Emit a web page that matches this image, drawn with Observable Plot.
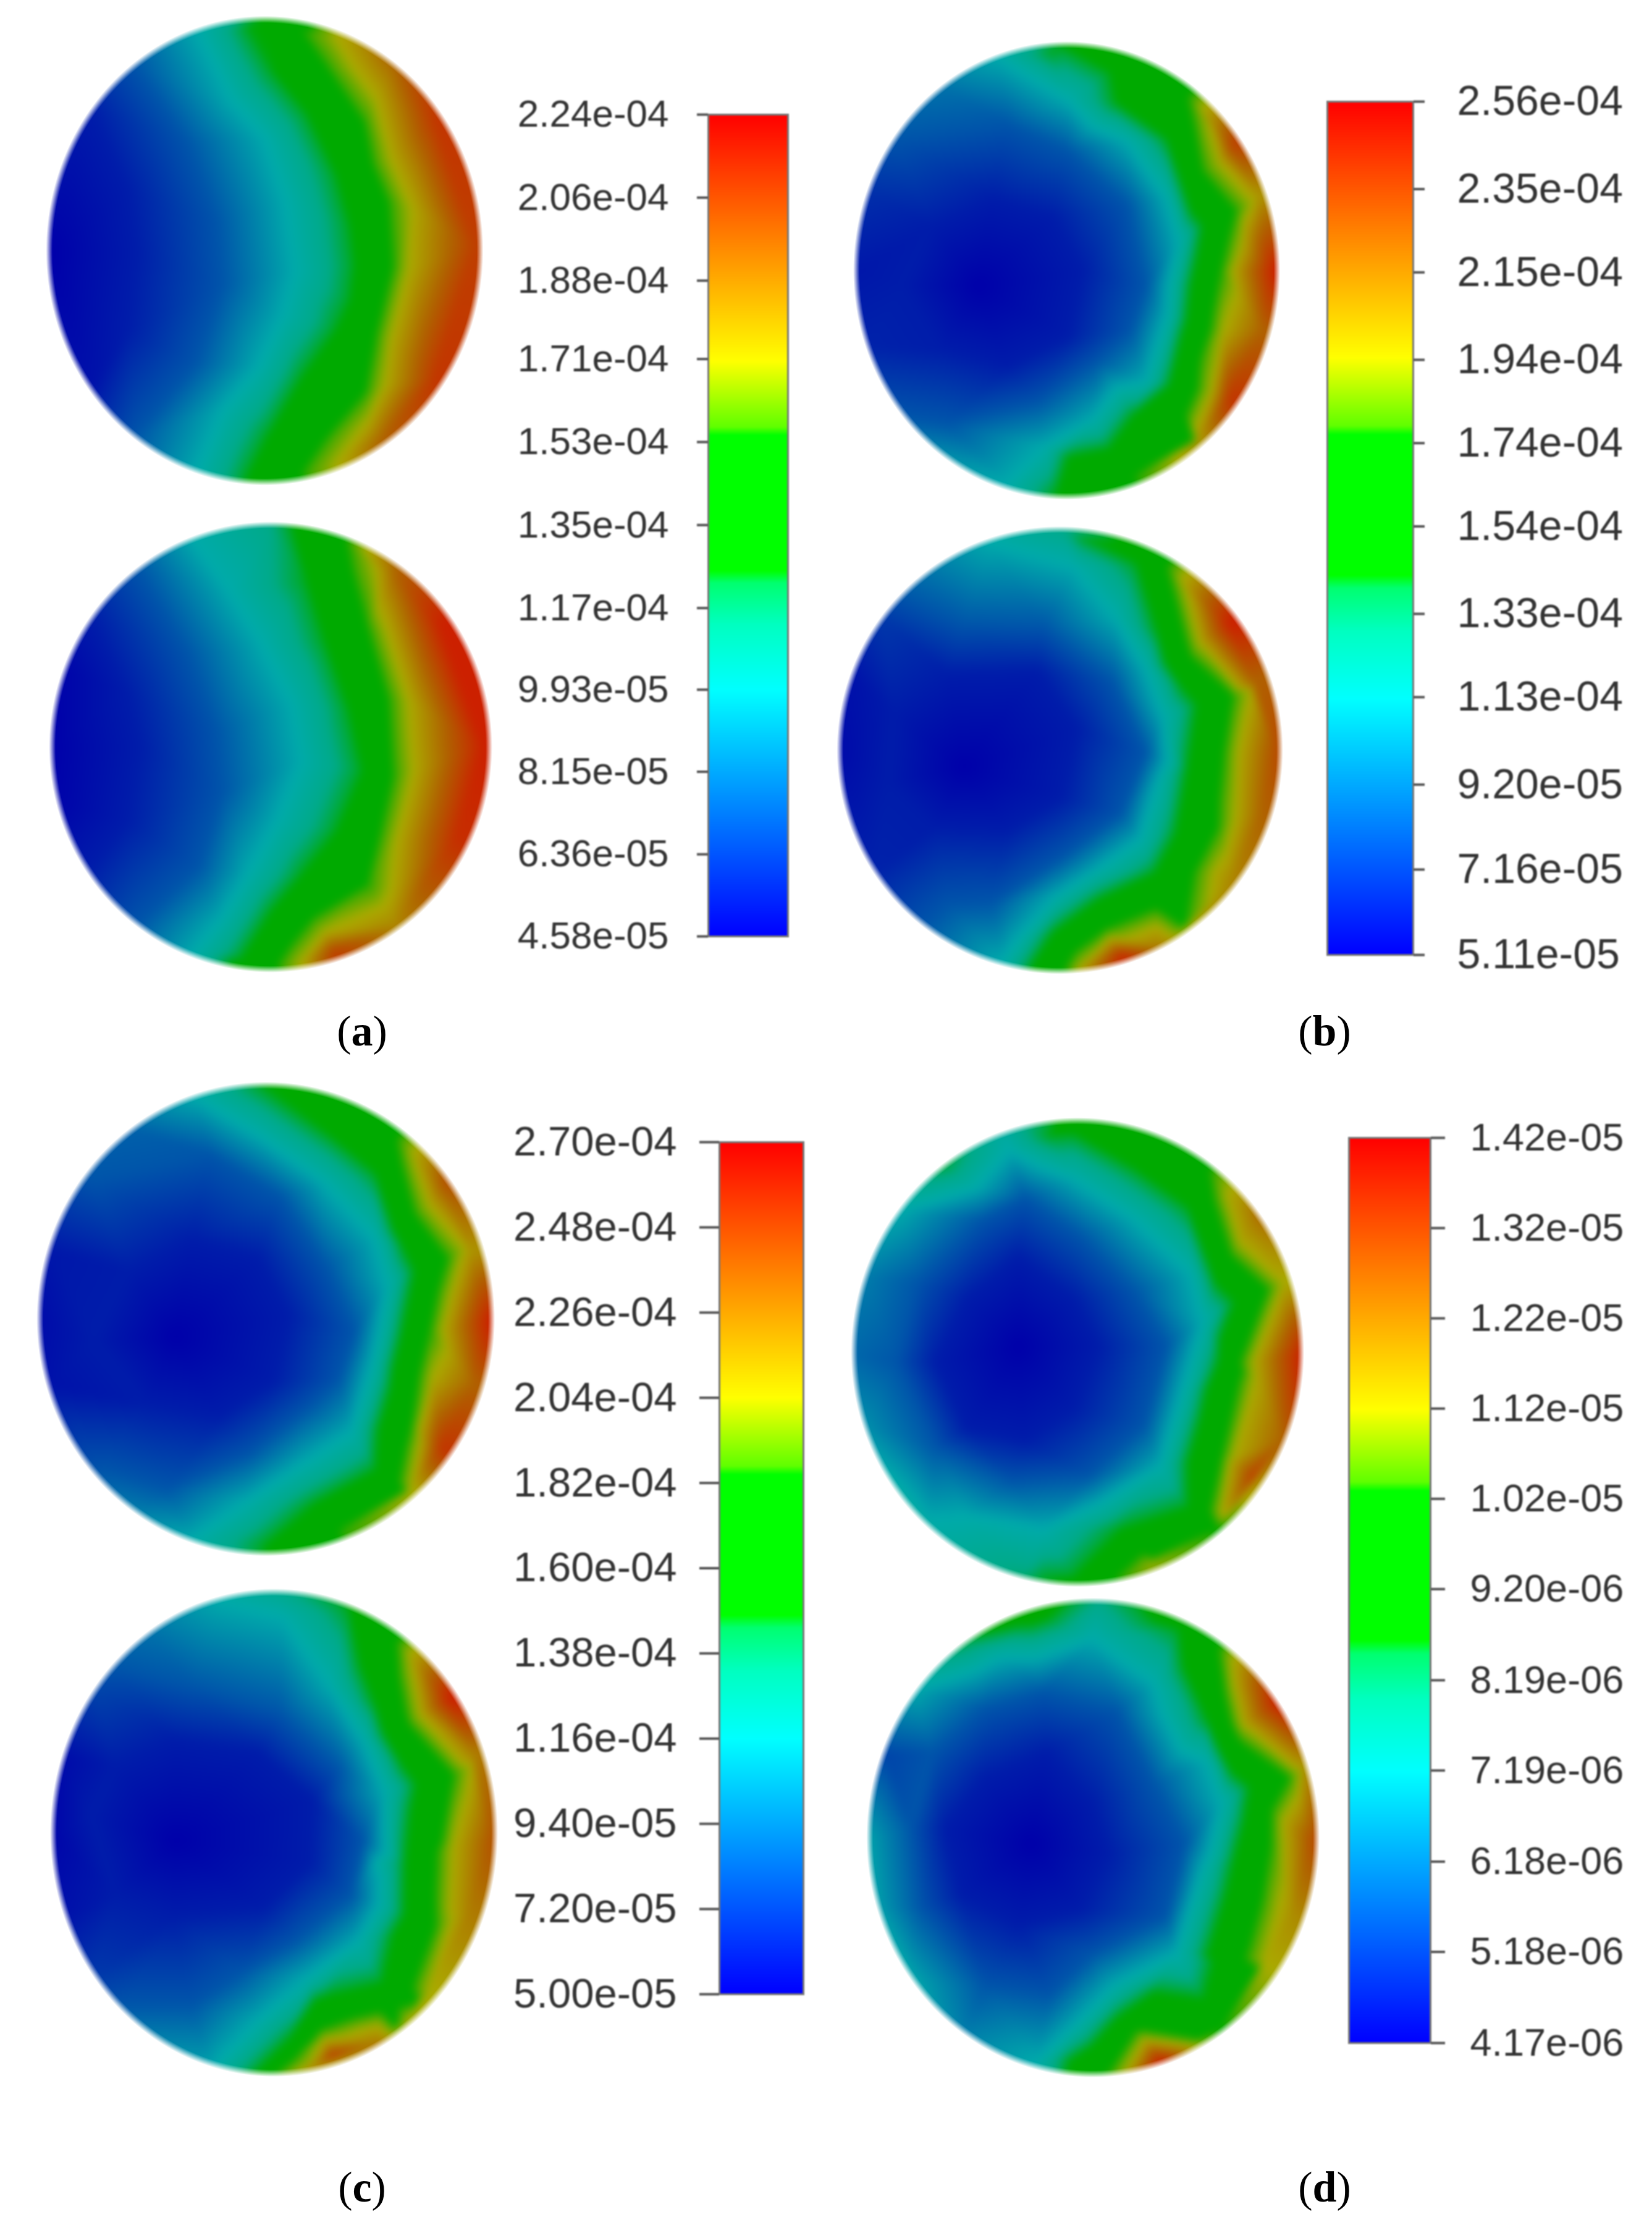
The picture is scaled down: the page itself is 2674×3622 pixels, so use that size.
<!DOCTYPE html>
<html><head><meta charset="utf-8">
<script src="https://cdn.jsdelivr.net/npm/d3@7"></script>
<script src="https://cdn.jsdelivr.net/npm/@observablehq/plot@0.6"></script>
<style>
html,body{margin:0;background:#fff}
#page{position:relative;width:2674px;height:3622px;overflow:hidden;background:#fff}
#page>div{position:absolute}
.lab{font:70px "Liberation Serif",serif;color:#000;line-height:1;white-space:nowrap}
.lab b{font-weight:700}
</style></head><body><div id="page"></div>
<script>
// Colour-bar tick labels
const ticksA=["2.24e-04","2.06e-04","1.88e-04","1.71e-04","1.53e-04","1.35e-04","1.17e-04","9.93e-05","8.15e-05","6.36e-05","4.58e-05"];
const ticksB=["2.56e-04","2.35e-04","2.15e-04","1.94e-04","1.74e-04","1.54e-04","1.33e-04","1.13e-04","9.20e-05","7.16e-05","5.11e-05"];
const ticksC=["2.70e-04","2.48e-04","2.26e-04","2.04e-04","1.82e-04","1.60e-04","1.38e-04","1.16e-04","9.40e-05","7.20e-05","5.00e-05"];
const ticksD=["1.42e-05","1.32e-05","1.22e-05","1.12e-05","1.02e-05","9.20e-06","8.19e-06","7.19e-06","6.18e-06","5.18e-06","4.17e-06"];

// Colour ramp stops (fraction of the range)
const rampStops=[0,.3,.38,.43,.445,.61,.62,.7,.85,1];
const barColors=["#0000ff","#00ffff","#00ffc0","#00ff70","#00ff00","#00ff00","#60ff00","#ffff00","#ff8000","#ff0000"];
const discColors=["#0000aa","#00aaaa","#00aa88","#00aa30","#00aa00","#00aa00","#30aa00","#aaaa00","#b06000","#cc2000"];

// Disc fields: contour lines as [fraction,[u,v,u,v,...]],
// rim samples as [u,v,fraction,...] and the location of the minimum.
const a1Min=[50,800];
const a1Lines=[[.05,[180,350,300,600,330,800,300,1050,180,1230]],
[.15,[330,210,500,450,600,700,620,900,530,1150,330,1380]],
[.3,[540,105,650,320,760,440,830,640,860,860,820,1000,740,1160,620,1300,540,1480]],
[.44,[700,80,790,230,900,360,1000,560,1045,720,1060,840,1045,950,1000,1040,880,1200,770,1380,700,1510]],
[.61,[880,95,970,220,1090,390,1170,640,1185,850,1130,1060,1095,1240,960,1390,880,1500]],
[.7,[1000,120,1130,310,1180,500,1250,660,1240,850,1180,1080,1160,1220,1100,1340,1000,1470]]];
const a1Rim=[760,60,.45,1200,200,.85,1330,380,.95,1460,780,.93,1330,1200,.95,1150,1400,.85,180,350,.03,180,1230,.03];

const a2Min=[50,800];
const a2Lines=[[.05,[180,370,300,620,340,800,300,1050,170,1220]],
[.15,[340,210,500,480,600,750,620,950,540,1200,340,1390]],
[.3,[520,110,640,280,750,460,850,660,880,850,800,1050,700,1230,610,1380,520,1490]],
[.44,[850,70,900,250,960,450,1040,680,1085,880,1000,1080,880,1230,780,1350,680,1510]],
[.61,[1030,110,1100,400,1170,640,1185,900,1140,1100,1100,1260,920,1370,800,1530]],
[.7,[1130,200,1170,420,1240,650,1240,950,1200,1110,1180,1280,960,1420,880,1520]]];
const a2Rim=[1200,220,.85,1350,400,1,1490,800,1,1400,1100,.97,1200,1400,.78,990,1490,.93,100,550,.01,90,1000,.01,780,65,.38];

const b1Min=[500,850];
const b1Lines=[[.05,[550,560,750,620,850,800,800,1020,600,1120,380,1060,250,850,350,650]],
[.15,[230,360,600,310,800,400,1000,580,1060,850,1010,1000,900,1100,700,1240,400,1310,260,1290]],
[.3,[570,90,800,230,1000,370,1130,560,1170,700,1130,950,1060,1170,880,1300,720,1390,600,1510]],
[.44,[740,65,960,240,1130,360,1210,600,1250,650,1210,850,1140,1180,1020,1280,800,1420,760,1540]],
[.61,[1200,220,1250,470,1360,600,1310,800,1240,1100,1220,1370]],
[.7,[1270,300,1310,440,1420,570,1380,720,1320,1000,1280,1200]]];
const b1Rim=[1350,380,.92,1490,800,1,1450,1000,.85,1340,1230,.95,1240,1360,.75,1440,550,.75,1440,700,.85,780,50,.44,1000,100,.5,100,800,.04,130,550,.08,380,190,.2,130,1050,.06,390,1420,.25,800,1540,.46,1000,1500,.6];

const b2Min=[450,850];
const b2Lines=[[.05,[400,540,700,530,830,720,780,950,600,1060,350,1050,200,900,220,660]],
[.15,[250,280,450,370,720,380,950,560,1060,800,980,1000,780,1150,550,1300,400,1310,330,1370]],
[.3,[540,100,820,180,960,350,1060,520,1120,680,1100,900,1040,1090,900,1190,760,1280,630,1430,580,1500]],
[.44,[850,80,1030,170,1100,400,1180,580,1230,640,1200,850,1160,1070,1090,1200,900,1290,750,1400,680,1510]],
[.61,[1130,180,1210,480,1350,610,1320,800,1300,1050,1190,1380,930,1385,790,1520]],
[.7,[1200,270,1240,430,1410,590,1370,800,1360,1000,1290,1200]],
[.7,[1180,1400,940,1420,860,1500]]];
const b2Rim=[1340,370,1,1500,800,.9,1450,1000,.85,1350,1230,.78,980,1480,.98,1100,1450,.8,1420,560,.85,160,1200,.06,50,800,.02,80,550,.03,180,350,.1,320,200,.2,780,60,.37,1030,110,.47];

const c1Min=[500,870];
const c1Lines=[[.05,[560,560,780,620,880,800,830,1010,650,1120,400,1080,230,880,350,660]],
[.15,[230,370,620,290,850,420,1010,650,1100,850,1050,1000,950,1090,750,1240,480,1350,260,1290]],
[.3,[570,110,780,230,1000,380,1170,560,1210,700,1160,950,1090,1170,900,1290,740,1390,560,1510]],
[.44,[800,80,1030,240,1170,350,1260,580,1300,660,1260,850,1170,1290,960,1400,800,1530]],
[.61,[1240,240,1300,480,1410,620,1350,850,1290,1150,1270,1360]],
[.7,[1300,300,1350,450,1470,590,1420,750,1360,1000,1320,1200,1290,1350]]];
const c1Rim=[1400,380,.88,1550,820,1,1500,1020,.85,1390,1220,.95,1000,1490,.5,1490,600,.75,800,65,.44,350,210,.17,90,600,.04,50,820,.02,80,1020,.03,370,1420,.22,820,1545,.45,1060,1480,.62];

const c2Min=[500,880];
const c2Lines=[[.05,[500,560,780,600,960,750,950,950,800,1090,500,1120,300,1050,220,800,300,640]],
[.15,[300,330,560,390,850,470,1050,650,1130,880,1090,1050,900,1200,720,1300,560,1400,330,1400]],
[.3,[650,120,860,170,1020,390,1130,560,1200,720,1170,950,1110,1200,950,1310,780,1450,660,1568,620,1620]],
[.44,[1080,140,1170,450,1260,640,1305,700,1270,950,1190,1330,1010,1370,880,1510,760,1625]],
[.61,[1240,250,1280,510,1430,670,1390,880,1370,1150,1310,1390,1240,1470,990,1475,900,1568,830,1625]],
[.7,[1290,320,1320,480,1490,640,1430,900,1420,1100,1350,1350,1280,1450]],
[.7,[1240,1490,1000,1510,960,1580,900,1625]]];
const c2Rim=[1420,430,1,1560,880,.88,1490,1100,.8,1030,1568,.95,1180,1520,.8,1500,600,.8,840,90,.36,420,220,.2,240,400,.12,130,620,.02,95,860,.01,130,1120,.03,230,1310,.1,390,1470,.2];

const d1Min=[620,800];
const d1Lines=[[.05,[620,520,800,650,880,800,800,1000,640,1100,450,1060,350,850,450,650]],
[.15,[640,330,820,450,1000,630,1100,800,1030,1050,850,1210,600,1230,350,1120,220,850,290,600,500,400]],
[.3,[240,370,480,300,590,180,800,270,1000,400,1180,570,1220,720,1150,950,1080,1180,880,1300,700,1380,450,1340,330,1350]],
[.44,[720,130,1000,240,1170,360,1260,600,1320,660,1270,850,1170,1310,950,1380,700,1540]],
[.61,[1240,240,1300,480,1430,620,1340,850,1280,1150,1270,1380]],
[.61,[1060,1470,930,1540]],
[.7,[1300,330,1340,470,1480,600,1390,900,1320,1150,1280,1330]]];
const d1Rim=[1400,390,.82,1540,830,1,1480,1100,.85,1390,1220,.95,1050,1490,.68,810,1555,.46,640,1540,.4,370,1430,.33,1480,600,.75,800,85,.48,1030,120,.5,90,830,.18,120,580,.22,120,1050,.25,230,1270,.32,380,230,.42,570,110,.33];

const d2Min=[600,850];
const d2Lines=[[.05,[650,560,800,720,850,880,760,1060,560,1110,370,1010,320,800,450,640]],
[.15,[640,370,880,430,1000,660,1100,850,1040,1080,800,1200,660,1330,450,1300,240,1050,210,800,280,560,450,420]],
[.3,[220,360,500,260,800,200,1000,340,1170,590,1220,720,1150,950,1070,1200,870,1300,750,1420,620,1540]],
[.44,[1080,170,1170,450,1250,620,1310,670,1260,900,1160,1340,1000,1320,880,1400,720,1540]],
[.61,[1210,230,1260,490,1440,640,1380,850,1340,1250,1220,1440,1150,1470,960,1440,850,1580]],
[.7,[1260,340,1290,470,1480,610,1420,780,1400,1080,1360,1220]],
[.7,[1130,1490,970,1470,900,1590]]];
const d2Rim=[1400,400,1,1520,840,.9,1450,1090,.76,1020,1540,1,1480,600,.75,75,830,.28,100,1050,.28,210,1290,.3,380,1450,.22,130,570,.12,590,110,.5,380,210,.42,820,75,.38,1060,130,.48];

// ---------- layout (page pixels) ----------
const unit=1568;           // contour coordinates span this many units across a crop
const pad=44;
const discs=[
 {lines:a1Lines,rim:a1Rim,min:a1Min,crop:[60,0,760,800],ext:[40,1480,60,1530],t:ticksA},
 {lines:a2Lines,rim:a2Rim,min:a2Min,crop:[60,820,760,760],ext:[50,1510,60,1545],t:ticksA},
 {lines:b1Lines,rim:b1Rim,min:b1Min,crop:[1340,50,760,760],ext:[95,1500,45,1555],t:ticksB},
 {lines:b2Lines,rim:b2Rim,min:b2Min,crop:[1340,830,760,760],ext:[40,1510,55,1530],t:ticksB},
 {lines:c1Lines,rim:c1Rim,min:c1Min,crop:[40,1720,760,800],ext:[50,1560,70,1555],t:ticksC},
 {lines:c2Lines,rim:c2Rim,min:c2Min,crop:[40,2530,760,800],ext:[95,1570,90,1619],t:ticksC},
 {lines:d1Lines,rim:d1Rim,min:d1Min,crop:[1340,1770,780,800],ext:[85,1540,85,1555],t:ticksD},
 {lines:d2Lines,rim:d2Rim,min:d2Min,crop:[1370,2550,780,800],ext:[75,1530,80,1582],t:ticksD}
];
const bars=[
 {t:ticksA,left:1146,w:129,top:185,bottom:1515,side:"left",size:18,gap:46,font:62},
 {t:ticksB,left:2148,w:139,top:164,bottom:1545,side:"right",size:18,gap:53,font:68},
 {t:ticksC,left:1164,w:136,top:1848,bottom:3227,side:"left",size:32,gap:37,font:67},
 {t:ticksD,left:2183,w:132,top:1841,bottom:3306,side:"right",size:23,gap:41,font:63}
];
const labels=[["a",586,1690],["b",2144,1690],["c",586,3561],["d",2144,3561]];

const page=document.getElementById("page");
function place(node,x,y){const w=document.createElement("div");w.style.left=x+"px";w.style.top=y+"px";w.appendChild(node);page.appendChild(w);return w;}
const rangeOf=t=>{const v=t.map(Number);return [d3.min(v),d3.max(v)];};
const colorFor=(t,colors)=>{const [lo,hi]=rangeOf(t);return {type:"linear",domain:rampStops.map(s=>lo+s*(hi-lo)),range:colors,interpolate:"rgb",clamp:true};};

for(const d of discs){
  const [cx,cy,cw,ch]=d.crop, sx=unit/cw, sy=unit/ch, [lo,hi]=rangeOf(d.t);
  const val=f=>lo+f*(hi-lo), pts=[];
  pts.push({u:d.min[0],v:d.min[1],w:val(0)});
  for(const [f,xy] of d.lines) for(let i=0;i<xy.length;i+=2) pts.push({u:xy[i],v:xy[i+1],w:val(f)});
  for(let i=0;i<d.rim.length;i+=3) pts.push({u:d.rim[i],v:d.rim[i+1],w:val(d.rim[i+2])});
  const W=cw+2*pad, H=ch+2*pad+40;
  const x0=-pad*sx, x1=(cw+pad)*sx, y0=-pad*sy, y1=(ch+pad+40)*sy;
  const svg=Plot.plot({width:W,height:H,margin:0,x:{domain:[x0,x1],axis:null},y:{domain:[y1,y0],axis:null},
    color:colorFor(d.t,discColors),style:{background:"transparent"},
    marks:[Plot.raster(pts,{x:"u",y:"v",fill:"w",interpolate:"barycentric",pixelSize:2,x1:x0,x2:x1,y1:y1,y2:y0})]});
  svg.style.filter="blur(7px)";svg.style.display="block";svg.style.maxWidth="none";
  const w=place(svg,cx-pad,cy-pad);
  const [l,r,t,b]=d.ext;
  const rx=(r-l)/2/sx, ry=(b-t)/2/sy, ex=(l+r)/2/sx+pad, ey=(t+b)/2/sy+pad;
  const m=`radial-gradient(ellipse ${rx+5}px ${ry+5}px at ${ex}px ${ey}px,#000 0,#000 97%,transparent 100%)`;
  w.style.webkitMaskImage=m;w.style.maskImage=m;
}

for(const b of bars){
  const [lo,hi]=rangeOf(b.t), m=50, side=440, left=b.side==="left", W=b.w+side+20;
  const svg=Plot.plot({width:W,height:b.bottom-b.top+2*m,marginTop:m,marginBottom:m,
    marginLeft:left?side:20,marginRight:left?20:side,
    x:{domain:[0,1],axis:null},y:{domain:[lo,hi]},color:colorFor(b.t,barColors),
    style:{fontFamily:'"Liberation Sans",Arial,sans-serif',background:"transparent",color:"#333"},
    marks:[
      Plot.raster({fill:(x,y)=>y,x1:0,x2:1,y1:lo,y2:hi,pixelSize:1}),
      Plot.frame({stroke:"#777",strokeWidth:3}),
      Plot.axisY({anchor:b.side,ticks:b.t.map(Number),tickSize:b.size,tickPadding:b.gap,fontSize:b.font,
        label:null,stroke:"#555",strokeWidth:4,fill:"#333",
        tickFormat:v=>b.t[b.t.map(Number).indexOf(v)]})
    ]});
  svg.style.filter="blur(1.2px)";svg.style.display="block";svg.style.overflow="visible";svg.style.maxWidth="none";
  const w=place(svg,left?b.left-side:b.left-20,b.top-m);
  w.style.width=W+"px";
}

for(const [k,x,y] of labels){
  const s=document.createElement("div");s.className="lab";s.innerHTML=`(<b>${k}</b>)`;
  const w=place(s,x,y-56);w.style.transform="translateX(-50%)";
}
</script></body></html>
